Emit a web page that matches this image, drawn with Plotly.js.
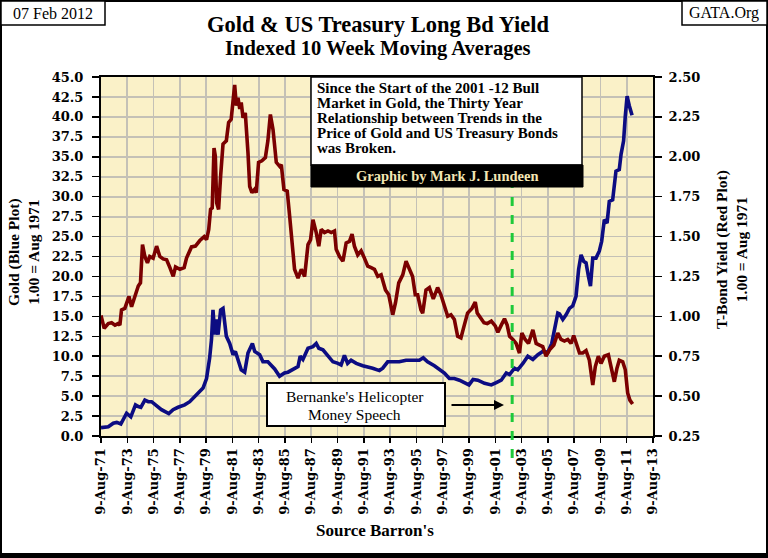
<!DOCTYPE html>
<html>
<head>
<meta charset="utf-8">
<script src="https://cdn.plot.ly/plotly-3.0.1.min.js"></script>
<style>html,body{margin:0;padding:0;background:#fff;}#chart{width:768px;height:558px;}</style>
</head>
<body>
<div id="chart"></div>
<script>
// Gold, indexed (1.00 = Aug 1971), 10 week moving average — left axis
const goldDates = ["1971-08-09","1972-02-28","1972-07-15","1972-10-20","1973-02-10","1973-07-20","1973-11-15","1974-03-25","1974-06-10","1974-08-20","1974-12-10","1975-03-15","1975-06-15","1975-10-30","1976-03-15","1976-10-05","1977-02-01","1977-06-20","1977-12-20","1978-05-10","1978-11-15","1979-05-15","1979-08-20","1979-11-15","1980-01-05","1980-02-15","1980-04-05","1980-05-20","1980-07-05","1980-09-15","1980-11-20","1981-02-20","1981-05-25","1981-08-25","1981-10-30","1982-01-10","1982-04-10","1982-07-15","1982-10-15","1983-02-15","1983-04-20","1983-09-05","1983-12-05","1984-04-20","1984-07-25","1984-10-25","1985-03-10","1985-07-25","1985-10-30","1986-03-15","1986-08-05","1986-10-05","1986-12-20","1987-05-10","1987-09-25","1987-12-25","1988-03-05","1988-06-28","1988-11-15","1989-04-01","1989-08-20","1989-11-15","1990-02-15","1990-05-15","1990-08-20","1991-01-10","1991-07-10","1991-11-25","1992-04-10","1992-10-15","1993-01-15","1993-06-01","1993-10-20","1994-04-20","1994-10-25","1995-04-25","1995-10-30","1996-02-15","1996-06-15","1996-12-20","1997-05-10","1997-09-25","1998-02-10","1998-06-28","1998-11-15","1999-04-01","1999-08-09","1999-12-01","2000-04-10","2000-10-15","2001-04-20","2001-09-05","2002-01-22","2002-06-10","2002-09-10","2003-01-25","2003-04-25","2003-09-15","2004-01-30","2004-06-18","2004-11-05","2005-03-20","2005-08-09","2005-11-25","2006-02-10","2006-05-12","2006-06-28","2006-09-28","2006-12-28","2007-04-01","2007-07-01","2007-10-01","2007-12-12","2008-02-18","2008-04-30","2008-07-05","2008-09-10","2008-11-05","2009-01-08","2009-04-08","2009-07-10","2009-09-12","2009-11-25","2010-02-10","2010-04-12","2010-07-15","2010-10-15","2011-01-15","2011-03-05","2011-05-15","2011-07-01","2011-08-20","2011-10-20","2012-01-05"];
const goldValues = [1.05,1.15,1.6,1.7,1.5,2.85,2.4,3.9,3.7,3.6,4.5,4.3,4.3,3.8,3.3,2.8,3.3,3.6,3.9,4.3,5.2,6.0,7.2,9.8,12.1,15.8,12.7,14.6,12.7,15.8,16.0,12.5,11.6,10.2,10.6,9.5,8.3,8.0,10.4,11.6,10.6,10.2,9.3,9.3,8.9,8.4,7.5,7.9,8.0,8.4,8.7,10.0,9.6,11.0,11.2,11.6,11.0,10.8,10.1,9.3,9.1,8.9,10.1,9.1,9.5,9.1,8.8,8.7,8.5,8.2,8.5,9.3,9.3,9.3,9.5,9.5,9.5,9.8,9.3,8.8,8.3,7.9,7.2,7.2,7.0,6.7,6.4,7.1,7.0,6.6,6.4,6.7,7.0,7.9,7.7,8.5,8.3,9.1,10.0,9.6,10.2,10.6,10.5,11.6,13.3,15.4,15.3,14.6,15.2,16.0,16.3,17.5,20.9,22.7,21.9,21.7,20.0,18.8,22.3,22.3,23.2,24.4,27.1,26.7,29.4,29.6,33.2,33.4,35.3,37.0,40.1,42.6,41.4,40.2];

// T-Bond yield, indexed (1.00 = Aug 1971), 10 week moving average — right axis
const bondDates = ["1971-08-09","1971-11-05","1972-02-28","1972-05-30","1972-09-01","1972-12-01","1973-01-15","1973-03-01","1973-06-01","1973-09-25","1973-12-05","1974-03-05","1974-06-10","1974-08-10","1974-10-05","1974-12-10","1975-02-20","1975-04-25","1975-07-28","1975-11-01","1976-01-30","1976-04-30","1976-08-05","1976-11-05","1977-02-05","1977-04-10","1977-08-09","1977-12-05","1978-02-10","1978-06-28","1978-10-15","1979-02-15","1979-06-15","1979-08-20","1979-10-20","1979-12-10","1980-01-25","1980-03-15","1980-04-20","1980-05-28","1980-07-20","1980-09-15","1980-11-20","1981-02-20","1981-04-25","1981-07-05","1981-08-25","1981-10-10","1981-11-25","1982-01-10","1982-02-28","1982-04-10","1982-05-30","1982-08-01","1982-10-15","1982-12-01","1983-02-01","1983-04-15","1983-06-01","1983-08-05","1983-11-05","1984-02-10","1984-04-20","1984-06-28","1984-09-10","1984-12-10","1985-03-15","1985-04-28","1985-07-10","1985-10-10","1985-12-15","1986-03-01","1986-05-01","1986-08-05","1986-11-05","1987-02-05","1987-05-10","1987-07-20","1987-09-25","1987-12-25","1988-03-05","1988-05-10","1988-08-10","1988-11-15","1989-02-15","1989-05-15","1989-07-01","1989-10-01","1990-01-05","1990-04-05","1990-07-05","1990-09-15","1990-11-20","1991-02-20","1991-05-25","1991-08-25","1991-11-25","1992-02-28","1992-05-30","1992-08-30","1992-12-01","1993-04-01","1993-07-01","1993-10-20","1994-01-05","1994-04-05","1994-07-25","1994-10-25","1995-01-25","1995-04-25","1995-07-08","1995-09-12","1995-12-12","1996-01-30","1996-05-01","1996-08-03","1996-11-20","1997-03-20","1997-06-20","1997-09-25","1997-12-25","1998-03-25","1998-06-28","1998-09-28","1998-12-28","1999-04-01","1999-07-01","1999-10-30","2000-01-30","2000-03-25","2000-06-28","2000-09-28","2000-12-28","2001-04-20","2001-08-08","2001-10-20","2002-01-22","2002-04-22","2002-07-05","2002-09-10","2002-12-10","2003-03-10","2003-06-12","2003-08-18","2003-11-18","2004-02-18","2004-06-18","2004-09-18","2004-12-20","2005-03-20","2005-06-20","2005-09-25","2006-01-22","2006-05-10","2006-08-10","2006-11-12","2007-02-12","2007-05-15","2007-07-28","2007-10-01","2008-01-05","2008-04-05","2008-07-05","2008-10-05","2009-01-08","2009-03-20","2009-06-12","2009-08-25","2009-11-25","2010-03-18","2010-05-30","2010-08-30","2010-11-12","2011-01-15","2011-04-20","2011-07-01","2011-09-05","2011-11-05","2012-01-20"];
const bondValues = [1.005,0.925,0.955,0.96,0.945,0.955,0.945,1.04,1.05,1.125,1.06,1.115,1.19,1.21,1.45,1.375,1.335,1.375,1.365,1.44,1.375,1.36,1.355,1.305,1.25,1.31,1.295,1.305,1.365,1.435,1.44,1.475,1.50,1.48,1.545,1.67,1.68,2.055,2.005,1.71,1.67,1.88,2.08,2.10,2.215,2.235,2.34,2.45,2.32,2.37,2.30,2.34,2.245,2.275,2.025,1.815,1.775,1.795,1.775,1.965,1.975,1.995,2.10,2.265,2.17,1.965,1.94,1.95,1.795,1.785,1.63,1.46,1.295,1.24,1.295,1.25,1.45,1.48,1.605,1.525,1.44,1.545,1.525,1.535,1.525,1.535,1.42,1.375,1.345,1.46,1.47,1.515,1.44,1.385,1.41,1.365,1.315,1.305,1.295,1.25,1.26,1.165,1.135,1.01,1.085,1.21,1.26,1.345,1.295,1.25,1.135,1.135,1.04,1.02,1.165,1.18,1.11,1.18,1.135,1.06,1.00,1.01,0.98,0.875,0.865,0.945,1.02,1.05,1.09,1.02,0.99,0.96,0.955,0.97,0.94,0.90,0.945,0.985,0.945,0.875,0.855,0.83,0.77,0.895,0.855,0.83,0.915,0.83,0.82,0.81,0.75,0.79,0.82,0.895,0.855,0.845,0.855,0.83,0.88,0.83,0.77,0.77,0.785,0.725,0.57,0.685,0.75,0.705,0.75,0.76,0.685,0.59,0.675,0.725,0.715,0.665,0.52,0.475,0.45];

const xRange = ["1971-08-09", "2013-08-09"];
const goldRange = [0, 45];
const bondRange = [0.25, 2.5];
const speechDate = "2002-11-21";
const boxLines = [
  "Since the Start of the 2001 -12 Bull",
  "Market in Gold, the Thirty Year",
  "Relationship between Trends in the",
  "Price of Gold and US Treasury Bonds",
  "was Broken."
];

const SERIF = "Liberation Serif, Times New Roman, serif";
const TICKF = "DejaVu Serif, serif";

const traces = [
  {x: bondDates, y: bondValues, yaxis: "y2", type: "scatter", mode: "lines",
   line: {color: "#7a0000", width: 3.6}, hoverinfo: "skip"},
  {x: goldDates, y: goldValues, yaxis: "y", type: "scatter", mode: "lines",
   line: {color: "#0c0c82", width: 3.6}, hoverinfo: "skip"}
];

function px2x(px){ return (px - 101) / 552; }
function px2y(py){ return (436 - py) / 359; }

const shapes = [
  // outer frame
  {type:"rect", xref:"paper", yref:"paper", x0:px2x(1), x1:px2x(767), y0:px2y(556), y1:px2y(1), line:{color:"#000", width:2}, fillcolor:"rgba(0,0,0,0)"},
  {type:"rect", xref:"paper", yref:"paper", x0:px2x(0), x1:px2x(768), y0:px2y(558), y1:px2y(553), line:{width:0}, fillcolor:"#000"},
  // date box and GATA box
  {type:"rect", xref:"paper", yref:"paper", x0:px2x(1), x1:px2x(105), y0:px2y(25), y1:px2y(1), line:{color:"#000", width:1.5}, fillcolor:"#fff"},
  {type:"rect", xref:"paper", yref:"paper", x0:px2x(682), x1:px2x(767), y0:px2y(25), y1:px2y(1), line:{color:"#000", width:1.5}, fillcolor:"#fff"},
  // green dashed line
  {type:"line", xref:"x", yref:"paper", x0:speechDate, x1:speechDate, y0:px2y(458), y1:px2y(187), line:{color:"#1ec93a", width:3, dash:"dash"}},
  // note box
  {type:"rect", xref:"paper", yref:"paper", x0:px2x(311), x1:px2x(582), y0:px2y(165), y1:px2y(77), line:{color:"#000", width:1.5}, fillcolor:"#fff"},
  {type:"rect", xref:"paper", yref:"paper", x0:px2x(311), x1:px2x(583), y0:px2y(187), y1:px2y(165), line:{color:"#000", width:1}, fillcolor:"#000"},
  // Bernanke box
  {type:"rect", xref:"paper", yref:"paper", x0:px2x(267), x1:px2x(445), y0:px2y(426), y1:px2y(383), line:{color:"#000", width:2}, fillcolor:"#fff"}
];

const annotations = [
  {xref:"paper", yref:"paper", x:px2x(53), y:px2y(13), text:"07 Feb 2012", showarrow:false, xanchor:"center", yanchor:"middle", font:{family:SERIF, size:16, color:"#000"}},
  {xref:"paper", yref:"paper", x:px2x(724), y:px2y(13), text:"GATA.Org", showarrow:false, xanchor:"center", yanchor:"middle", font:{family:SERIF, size:16, color:"#000"}},
  {xref:"paper", yref:"paper", x:px2x(378), y:px2y(48.5), text:"Indexed 10 Week Moving Averages", showarrow:false, xanchor:"center", yanchor:"middle", font:{family:SERIF, size:20.5, color:"#000", weight:"bold"}},
  {xref:"paper", yref:"paper", x:px2x(446.5), y:px2y(176), text:"Graphic by Mark J. Lundeen", showarrow:false, xanchor:"center", yanchor:"middle", font:{family:SERIF, size:14.5, color:"#f3e6b4", weight:"bold"}},
  {xref:"paper", yref:"paper", x:px2x(354.5), y:px2y(396.5), text:"Bernanke's Helicopter", showarrow:false, xanchor:"center", yanchor:"middle", font:{family:SERIF, size:15.5, color:"#000"}},
  {xref:"paper", yref:"paper", x:px2x(354.5), y:px2y(414), text:"Money Speech", showarrow:false, xanchor:"center", yanchor:"middle", font:{family:SERIF, size:15.5, color:"#000"}},
  {xref:"paper", yref:"paper", x:px2x(504), y:px2y(405), ax:-54, ay:0, text:"", showarrow:true, arrowhead:2, arrowsize:1, arrowwidth:2, arrowcolor:"#000"},
  {xref:"paper", yref:"paper", x:px2x(23), y:px2y(252), text:"Gold (Blue Plot)<br>1.00 = Aug 1971", textangle:-90, showarrow:false, xanchor:"center", yanchor:"middle", font:{family:SERIF, size:15.5, color:"#000", weight:"bold"}},
  {xref:"paper", yref:"paper", x:px2x(731), y:px2y(250), text:"T-Bond Yield (Red Plot)<br>1.00 = Aug 1971", textangle:-90, showarrow:false, xanchor:"center", yanchor:"middle", font:{family:SERIF, size:15.5, color:"#000", weight:"bold"}},
  {xref:"paper", yref:"paper", x:px2x(375), y:px2y(530), text:"Source Barron's", showarrow:false, xanchor:"center", yanchor:"middle", font:{family:SERIF, size:17, color:"#000", weight:"bold"}}
];
boxLines.forEach(function(t, i){
  annotations.push({xref:"paper", yref:"paper", x:px2x(315), y:px2y(88 + 15*i), text:t, showarrow:false, xanchor:"left", yanchor:"middle", font:{family:SERIF, size:15, color:"#000", weight:"bold"}});
});

const layout = {
  width: 768, height: 558,
  margin: {l:101, r:115, t:77, b:122, pad:0},
  paper_bgcolor: "#ffffff",
  plot_bgcolor: "#faf1c8",
  showlegend: false,
  title: {text:"Gold & US Treasury Long Bd Yield", x:378/768, xanchor:"center", xref:"container", y:1-24/558, yanchor:"middle", yref:"container", font:{family:SERIF, size:22.5, color:"#000", weight:"bold"}},
  xaxis: {type:"date", range:xRange, tick0:"1971-08-09", dtick:"M24", tickformat:"%-d-%b-%y", tickangle:-90,
          ticks:"outside", ticklen:5, tickwidth:1.5, tickcolor:"#000",
          showline:true, linecolor:"#000", linewidth:2, mirror:true,
          showgrid:true, gridcolor:"#c4c1b6", gridwidth:1.8, zeroline:false,
          tickfont:{family:TICKF, size:13, color:"#000", weight:"bold"}},
  yaxis: {range:goldRange, tick0:0, dtick:2.5, tickformat:".1f",
          ticks:"outside", ticklen:7, tickwidth:1.5, tickcolor:"#000", ticklabelstandoff:6,
          showline:true, linecolor:"#000", linewidth:2,
          showgrid:true, gridcolor:"#c4c1b6", gridwidth:1.8, zeroline:false,
          tickfont:{family:TICKF, size:13, color:"#000", weight:"bold"}},
  yaxis2: {range:bondRange, tick0:0.25, dtick:0.25, tickformat:".2f", overlaying:"y", side:"right",
          ticks:"outside", ticklen:7, tickwidth:1.5, tickcolor:"#000", ticklabelstandoff:4,
          showline:true, linecolor:"#000", linewidth:2,
          showgrid:false, zeroline:false,
          tickfont:{family:TICKF, size:13, color:"#000", weight:"bold"}},
  shapes: shapes,
  annotations: annotations
};

Plotly.newPlot("chart", traces, layout, {staticPlot:true, displayModeBar:false});
</script>
</body>
</html>
